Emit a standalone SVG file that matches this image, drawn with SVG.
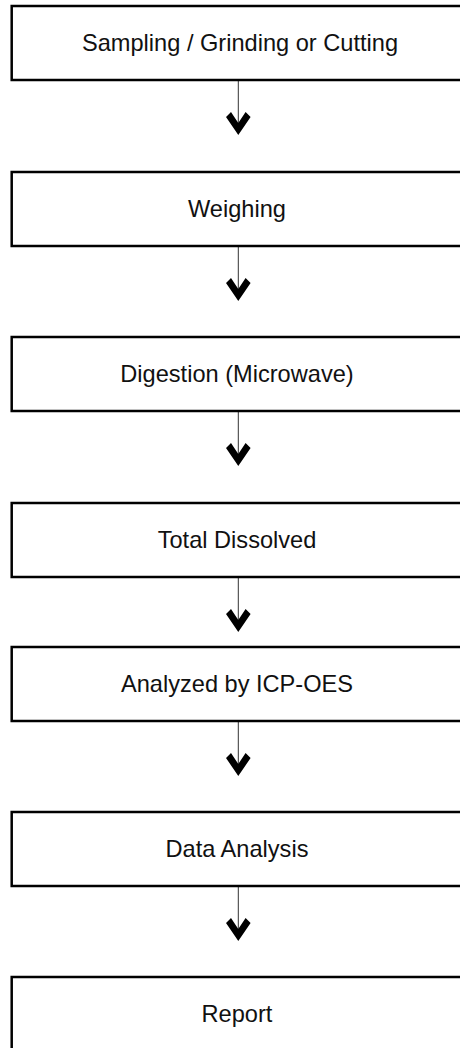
<svg xmlns="http://www.w3.org/2000/svg" width="460" height="1048" viewBox="0 0 460 1048">
<defs>
<style>
.box{fill:#fff;stroke:#000;stroke-width:2.5}
.lbl{font-family:"Liberation Sans",Arial,sans-serif;font-size:23.6px;fill:#111;text-anchor:middle}
.ln{stroke:#333;stroke-width:1;fill:none}
.hd{fill:#000}
</style>
<path id="chev" class="hd" d="M-12.3,-18 L-7.3,-23 L0,-12 L7.3,-23 L12.3,-18 L0,0 Z"/>
</defs>
<rect width="460" height="1048" fill="#fff"/>
<g id="connectors">
<line class="ln" x1="238.3" y1="80" x2="238.3" y2="124"/><use href="#chev" x="238.3" y="135"/>
<line class="ln" x1="238.3" y1="246" x2="238.3" y2="290"/><use href="#chev" x="238.3" y="301"/>
<line class="ln" x1="238.3" y1="411" x2="238.3" y2="455"/><use href="#chev" x="238.3" y="466"/>
<line class="ln" x1="238.3" y1="577" x2="238.3" y2="621"/><use href="#chev" x="238.3" y="632"/>
<line class="ln" x1="238.3" y1="721" x2="238.3" y2="765"/><use href="#chev" x="238.3" y="776"/>
<line class="ln" x1="238.3" y1="886" x2="238.3" y2="930"/><use href="#chev" x="238.3" y="941"/>
</g>
<g id="n1"><rect class="box" x="11.7" y="6" width="454" height="74"/><text class="lbl" x="240" y="51.3">Sampling / Grinding or Cutting</text></g>
<g id="n2"><rect class="box" x="11.7" y="172" width="454" height="74"/><text class="lbl" x="237" y="217.3">Weighing</text></g>
<g id="n3"><rect class="box" x="11.7" y="337" width="454" height="74"/><text class="lbl" x="237" y="382.3">Digestion (Microwave)</text></g>
<g id="n4"><rect class="box" x="11.7" y="503" width="454" height="74"/><text class="lbl" x="237" y="548.3">Total Dissolved</text></g>
<g id="n5"><rect class="box" x="11.7" y="647" width="454" height="74"/><text class="lbl" x="237" y="692.3">Analyzed by ICP-OES</text></g>
<g id="n6"><rect class="box" x="11.7" y="812" width="454" height="74"/><text class="lbl" x="237" y="857.3">Data Analysis</text></g>
<g id="n7"><rect class="box" x="11.7" y="977" width="454" height="74"/><text class="lbl" x="237" y="1022.3">Report</text></g>
</svg>
